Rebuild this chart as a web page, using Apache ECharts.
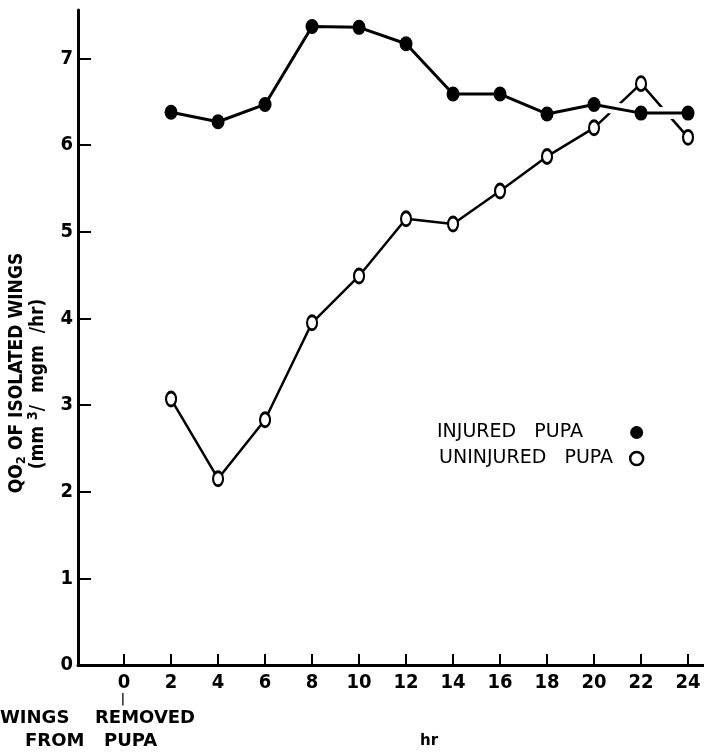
<!DOCTYPE html>
<html>
<head>
<meta charset="utf-8">
<script src="https://cdn.jsdelivr.net/npm/echarts@6/dist/echarts.min.js"></script>
<style>
    html, body { margin: 0; padding: 0; background: #fff; }
    #chart { width: 704px; height: 753px; }
</style>
</head>
<body>
<div id="chart"></div>
<script>
    // hours after the wings were removed
    var hours = [2, 4, 6, 8, 10, 12, 14, 16, 18, 20, 22, 24];
    // QO2 values
    var injured = [6.38, 6.27, 6.47, 7.37, 7.36, 7.17, 6.59, 6.59, 6.36, 6.47, 6.37, 6.37];
    var uninjured = [3.07, 2.15, 2.83, 3.95, 4.49, 5.15, 5.09, 5.47, 5.87, 6.2, 6.71, 6.09];
    var xTicks = [0, 2, 4, 6, 8, 10, 12, 14, 16, 18, 20, 22, 24];
    var yTicks = [0, 1, 2, 3, 4, 5, 6, 7];

    var narrow = "'Liberation Sans Narrow', 'DejaVu Sans Condensed', sans-serif";
    var wide = "'DejaVu Sans', 'Liberation Sans', sans-serif";

    function pairs(vals) {
        return hours.map(function (h, i) { return [h, vals[i]]; });
    }

    function label(text, x, y, size) {
        return {
            type: 'text', x: x, y: y,
            style: {text: text, verticalAlign: 'middle',
                fontFamily: wide, fontWeight: 'bold', fontSize: size, fill: '#000'}
        };
    }

    var chart = echarts.init(document.getElementById('chart'));
    var option = {
        backgroundColor: '#fff',
        animation: false,
        grid: {
            left: 78,
            right: 0,
            top: 10,
            bottom: 88
        },
        legend: {
            orient: 'vertical',
            left: 432,
            top: 418,
            align: 'right',
            itemGap: 7,
            itemWidth: 13,
            itemHeight: 15,
            textStyle: {
                color: '#000',
                fontFamily: wide,
                fontSize: 19
            },
            formatter: function (name) {
                // pad the shorter label so both marks line up
                return name === 'INJURED   PUPA' ? name + '       ' : name + '  ';
            },
            data: [
                {name: 'INJURED   PUPA', icon: 'circle', itemStyle: {color: '#000'}},
                {name: 'UNINJURED   PUPA', icon: 'circle',
                    itemStyle: {color: '#fff', borderColor: '#000', borderWidth: 2.5}}
            ]
        },
        xAxis: {
            type: 'value',
            min: -1.96,
            max: 24.68,
            splitLine: {show: false},
            axisLine: {
                onZero: false,
                lineStyle: {color: '#000', width: 3}
            },
            axisTick: {
                inside: true,
                length: 11,
                customValues: xTicks,
                lineStyle: {color: '#000', width: 2}
            },
            axisLabel: {
                customValues: xTicks,
                margin: 8,
                color: '#000',
                fontFamily: narrow,
                fontWeight: 'bold',
                fontSize: 20
            }
        },
        yAxis: {
            type: 'value',
            min: 0,
            max: 7.56,
            splitLine: {show: false},
            axisLine: {
                onZero: false,
                lineStyle: {color: '#000', width: 3}
            },
            axisTick: {
                inside: true,
                length: 13,
                customValues: yTicks,
                lineStyle: {color: '#000', width: 2}
            },
            axisLabel: {
                customValues: yTicks,
                margin: 5,
                color: '#000',
                fontFamily: narrow,
                fontWeight: 'bold',
                fontSize: 20
            }
        },
        series: [
            {
                name: 'UNINJURED   PUPA',
                type: 'line',
                data: pairs(uninjured),
                symbol: 'circle',
                symbolSize: [10, 14],
                itemStyle: {color: '#fff', borderColor: '#000', borderWidth: 2.5},
                lineStyle: {color: '#000', width: 2.5},
                z: 2
            },
            {
                // white band under the injured line: the open line is broken where it crosses
                name: 'gap',
                type: 'line',
                data: pairs(injured),
                symbol: 'none',
                silent: true,
                lineStyle: {color: '#fff', width: 12},
                z: 3
            },
            {
                name: 'INJURED   PUPA',
                type: 'line',
                data: pairs(injured),
                symbol: 'circle',
                symbolSize: [13, 15],
                itemStyle: {color: '#000'},
                lineStyle: {color: '#000', width: 3},
                z: 4
            }
        ],
        graphic: [
            // vertical axis title, two lines
            {
                type: 'text',
                x: 17,
                y: 373,
                rotation: Math.PI / 2,
                style: {
                    text: '{b|QO}{s|2}{b| OF ISOLATED WINGS}',
                    align: 'center',
                    verticalAlign: 'middle',
                    rich: {
                        b: {fontFamily: narrow, fontWeight: 'bold', fontSize: 19, fill: '#000'},
                        s: {fontFamily: narrow, fontWeight: 'bold', fontSize: 13, fill: '#000', padding: [9, 0, 0, 0]}
                    }
                }
            },
            {
                type: 'text',
                x: 38,
                y: 384,
                rotation: Math.PI / 2,
                style: {
                    text: '{b|(mm }{s|3}{b|/  mgm  /hr)}',
                    align: 'center',
                    verticalAlign: 'middle',
                    rich: {
                        b: {fontFamily: narrow, fontWeight: 'bold', fontSize: 19, fill: '#000'},
                        s: {fontFamily: narrow, fontWeight: 'bold', fontSize: 14, fill: '#000', padding: [0, 0, 9, 0]}
                    }
                }
            },
            // note under the 0 hour mark
            {
                type: 'text', x: 123, y: 700,
                style: {text: '|', align: 'center', verticalAlign: 'middle',
                    fontFamily: narrow, fontWeight: 'bold', fontSize: 13, fill: '#000'}
            },
            label('WINGS', 0, 718, 18),
            label('REMOVED', 95, 718, 18),
            label('FROM', 25, 741, 18),
            label('PUPA', 104, 741, 18),
            label('hr', 420, 741, 15)
        ]
    };
    chart.setOption(option);
</script>
</body>
</html>
